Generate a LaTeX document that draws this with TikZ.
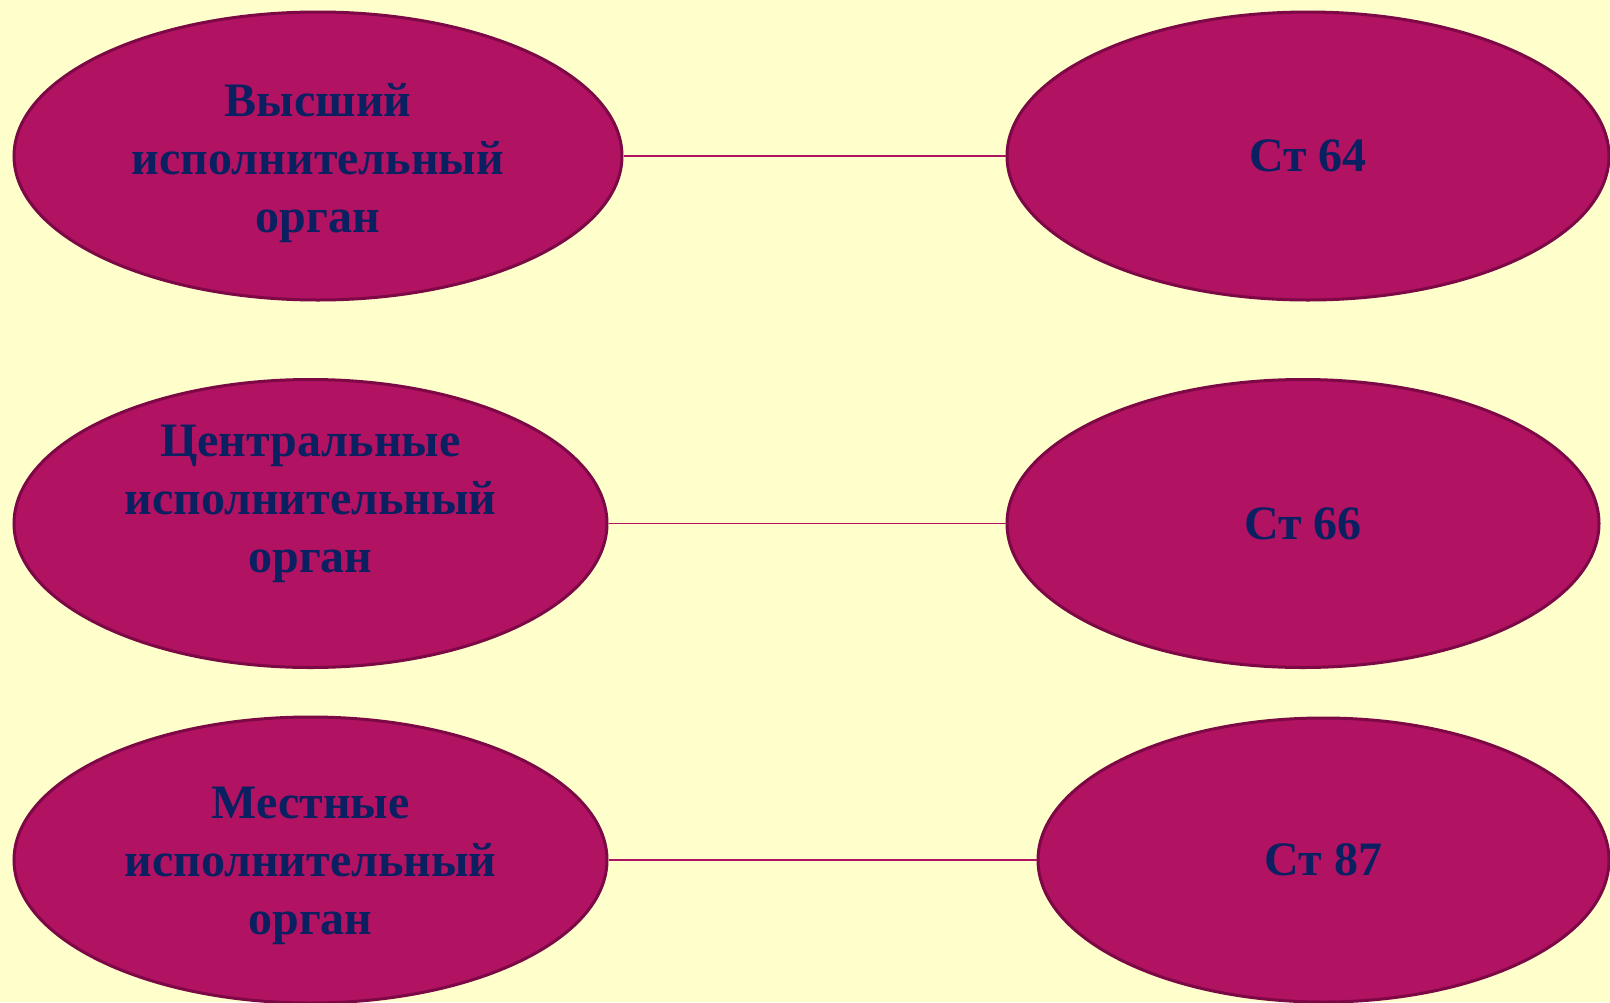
\documentclass[tikz,border=0pt]{standalone}
\usepackage{fontspec}
\setmainfont{Liberation Serif}
\usepackage{tikz}
\usepackage{xcolor}
\usetikzlibrary{shapes.geometric}
\definecolor{page-yellow}{HTML}{FFFFCC}
\definecolor{oval-fill}{HTML}{B11261}
\definecolor{oval-line}{HTML}{7C0846}
\definecolor{oval-ink}{HTML}{0A2060}
\tikzset{
    oval/.style = {ellipse, draw=oval-line, fill=oval-fill, line width=3pt, inner sep=0pt, align=center,
        text=oval-ink, font=\fontsize{48}{58}\selectfont\bfseries},
    oval-text/.style = {align=center, text=oval-ink, font=\fontsize{48}{58}\selectfont\bfseries},
    link/.style = {draw=oval-fill, line width=1.5pt},
}

\begin{document}
\begin{tikzpicture}[x=1pt, y=-1pt]
\fill[page-yellow] (0,0) rectangle (1610,1002);
\useasboundingbox (0,0) rectangle (1610,1002);
\node [oval, minimum width=608pt, minimum height=288pt,
    label={[oval-text, yshift=-7pt]center:{Высший\\исполнительный\\орган}}] (highest) at (318,156) {};
\node [oval, minimum width=602pt, minimum height=288pt] (art-64) at (1308,156) {Ст 64};
\node [oval, minimum width=593pt, minimum height=288pt,
    label={[oval-text, yshift=19.5pt]center:{Центральные\\исполнительный\\орган}}] (central) at (310.5,523.5) {};
\node [oval, minimum width=592pt, minimum height=288pt] (art-66) at (1303,523.5) {Ст 66};
\node [oval, minimum width=593pt, minimum height=286pt,
    label={[oval-text, yshift=-6pt]center:{Местные\\исполнительный\\орган}}] (local) at (310.5,860) {};
\node [oval, minimum width=571pt, minimum height=284pt] (art-87) at (1323.5,860) {Ст 87};
\draw [link] (highest.east) -- (art-64.west);
\draw [link] (central.east) -- (art-66.west);
\draw [link] (local.east) -- (art-87.west);
\end{tikzpicture}
\end{document}
